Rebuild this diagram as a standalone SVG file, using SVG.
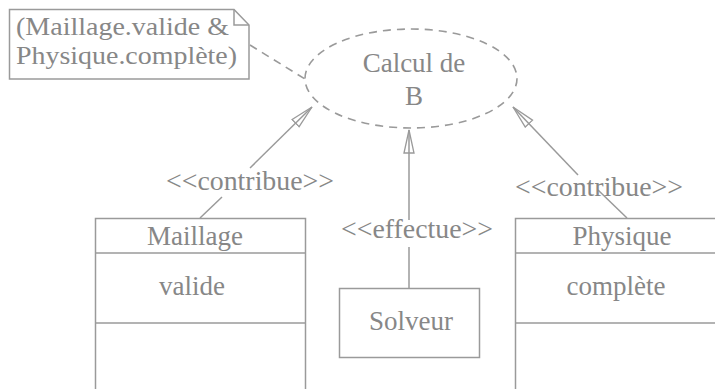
<svg xmlns="http://www.w3.org/2000/svg" width="715" height="389" viewBox="0 0 715 389" font-family="Liberation Serif, Times New Roman, Times, serif">
  <defs>
    <style>
      .bg { fill: #ffffff; }
      .box { fill: #ffffff; stroke: #9a9a9a; stroke-width: 1.5; }
      .line { fill: none; stroke: #9a9a9a; stroke-width: 1.5; }
      .dash { fill: none; stroke: #9a9a9a; stroke-width: 1.6; stroke-dasharray: 8 6; }
      .t { font-family: "Liberation Serif", "Times New Roman", serif; font-size: 27px; fill: #878787; }
      .n { font-size: 26px; }
      .c { text-anchor: middle; }
    </style>
    <marker id="open" markerWidth="26" markerHeight="14" refX="24" refY="6" orient="auto" markerUnits="userSpaceOnUse">
      <path d="M1,1 L24,6 L1,11 Z" fill="none" stroke="#9a9a9a" stroke-width="1.3" stroke-linejoin="miter"/>
    </marker>
  </defs>

  <rect class="bg" x="0" y="0" width="715" height="389"/>

  <!-- use case -->
  <g id="calcul">
    <ellipse class="dash" cx="411" cy="78.5" rx="106" ry="49.5"/>
    <text class="t c" x="414" y="72">Calcul de</text>
    <text class="t c" x="414" y="105">B</text>
  </g>

  <!-- constraint note with folded corner -->
  <g id="note">
    <path class="box" d="M9.5,9.5 H234 L249,25 V79 H9.5 Z"/>
    <path class="line" d="M234,9.5 V25 H249"/>
    <text class="t n" x="16" y="35" textLength="213" lengthAdjust="spacingAndGlyphs">(Maillage.valide &amp;</text>
    <text class="t n" x="16" y="64" textLength="221" lengthAdjust="spacingAndGlyphs">Physique.complète)</text>
  </g>

  <!-- classes -->
  <g id="maillage">
    <rect class="box" x="95.5" y="218.5" width="210" height="180"/>
    <line class="line" x1="95.5" y1="253" x2="305.5" y2="253"/>
    <line class="line" x1="95.5" y1="323" x2="305.5" y2="323"/>
    <text class="t c" x="195" y="245">Maillage</text>
    <text class="t c" x="192" y="295">valide</text>
  </g>

  <g id="solveur">
    <rect class="box" x="339.5" y="288.5" width="140" height="69"/>
    <text class="t c" x="411" y="330">Solveur</text>
  </g>

  <g id="physique">
    <rect class="box" x="515.5" y="218.5" width="220" height="180"/>
    <line class="line" x1="515.5" y1="253" x2="735" y2="253"/>
    <line class="line" x1="515.5" y1="323" x2="735" y2="323"/>
    <text class="t c" x="622" y="245">Physique</text>
    <text class="t c" x="616" y="295">complète</text>
  </g>

  <!-- connectors -->
  <g id="connectors">
    <line class="dash" x1="250" y1="45" x2="305" y2="79"/>

    <line class="line" x1="200" y1="218" x2="222" y2="197"/>
    <line class="line" x1="250" y1="168" x2="312" y2="107" marker-end="url(#open)"/>
    <text class="t c" x="250" y="190" textLength="168" lengthAdjust="spacingAndGlyphs">&lt;&lt;contribue&gt;&gt;</text>

    <line class="line" x1="409" y1="288" x2="409" y2="247"/>
    <line class="line" x1="409" y1="220" x2="409" y2="130" marker-end="url(#open)"/>
    <text class="t c" x="417" y="238" textLength="152" lengthAdjust="spacingAndGlyphs">&lt;&lt;effectue&gt;&gt;</text>

    <line class="line" x1="627" y1="218" x2="598" y2="190"/>
    <line class="line" x1="578" y1="175" x2="513" y2="107" marker-end="url(#open)"/>
    <text class="t c" x="599" y="196" textLength="168" lengthAdjust="spacingAndGlyphs">&lt;&lt;contribue&gt;&gt;</text>
  </g>
</svg>
